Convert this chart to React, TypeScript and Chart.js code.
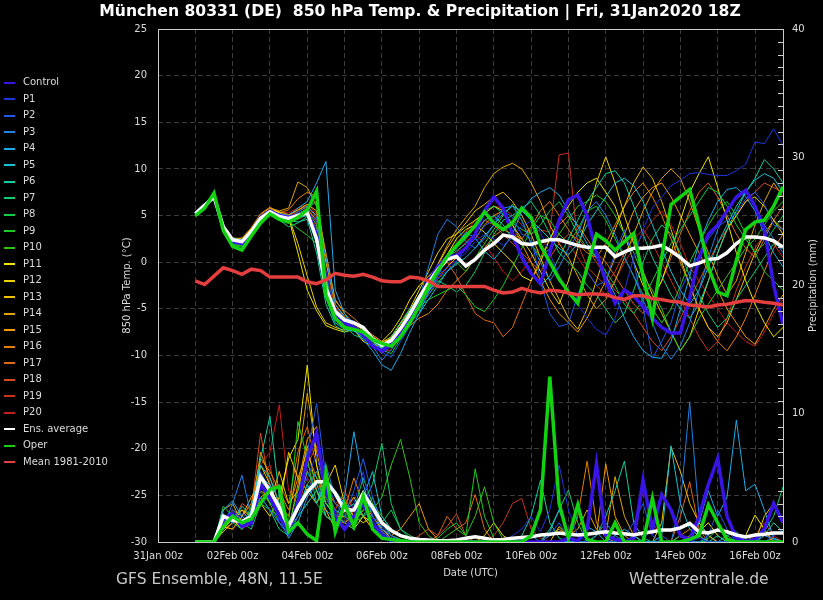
import React, { useEffect, useRef } from 'react';
import { Chart, registerables } from 'chart.js';

Chart.register(...registerables);

// ---------------- DATA ----------------
// forecast valid times, hours after 31Jan2020 00z (6-hourly)
const HOURS = [24, 30, 36, 42, 48, 54, 60, 66, 72, 78, 84, 90, 96, 102, 108, 114,
  120, 126, 132, 138, 144, 150, 156, 162, 168, 174, 180, 186, 192, 198, 204, 210,
  216, 222, 228, 234, 240, 246, 252, 258, 264, 270, 276, 282, 288, 294, 300, 306,
  312, 318, 324, 330, 336, 342, 348, 354, 360, 366, 372, 378, 384, 390, 396, 402];

const X_TICK_LABELS = ['31Jan 00z', '02Feb 00z', '04Feb 00z', '06Feb 00z', '08Feb 00z',
  '10Feb 00z', '12Feb 00z', '14Feb 00z', '16Feb 00z'];

const MEMBER_NAMES = ['Control', 'P1', 'P2', 'P3', 'P4', 'P5', 'P6', 'P7', 'P8', 'P9', 'P10',
  'P11', 'P12', 'P13', 'P14', 'P15', 'P16', 'P17', 'P18', 'P19', 'P20'];

// 850 hPa temperature (°C)
const TEMP_CONTROL = [5.2, 6.0, 7.1, 3.7, 2.2, 2.0, 3.2, 4.8, 5.5, 5.0, 4.8, 5.0, 5.4,
  3.0, -3.0, -5.5, -6.5, -7.0, -7.8, -9.0, -9.5, -8.8, -7.3, -5.8, -3.9, -2.0, -0.5, 0.6,
  0.7, 1.5, 3.0, 5.5, 7.0, 5.8, 3.0, 0.5, -1.2, -2.3, 1.0, 4.5, 6.7, 7.2, 5.0, 1.0,
  -2.0, -4.4, -3.0, -3.6, -4.8, -6.0, -7.0, -7.6, -7.6, -3.8, 0.5, 3.0, 4.0, 5.5, 7.0, 7.7, 6.0, 3.5, -2.5, -6.7];
const TEMP_P1 = [5.3, 6.2, 7.1, 3.9, 2.3, 2.1, 3.2, 4.8, 5.5, 4.8, 4.5, 4.9, 5.2,
  4.5, -1.0, -5.8, -6.5, -6.8, -7.5, -8.6, -9.8, -9.0, -7.6, -6.0, -4.2, -2.8, -1.5, -0.5,
  0.2, 1.0, 2.2, 3.0, 2.5, 1.8, 2.6, 3.9, 4.4, 3.2, 1.0, -1.5, -3.0, -4.5, -6.0, -7.2,
  -7.8, -6.0, -3.0, 0.5, 3.5, 5.8, 7.0, 8.2, 8.8, 9.5, 9.6, 9.4, 9.3, 9.3, 9.8, 10.5, 12.9, 12.7, 14.3, 12.5];
const TEMP_P2 = [5.2, 6.0, 7.0, 3.6, 2.2, 2.3, 3.4, 4.6, 5.3, 5.0, 4.9, 5.2, 5.6,
  3.2, -3.5, -5.0, -6.0, -6.3, -7.0, -8.0, -9.6, -10.2, -8.5, -6.8, -4.9, -3.5, -1.8, -0.9,
  0.0, 1.6, 2.5, 3.9, 4.5, 5.5, 4.8, 3.0, 2.6, -2.0, -5.5, -6.9, -6.6, -3.5, -1.0, -2.5,
  -2.0, 1.0, 3.5, 0.0, -4.8, -10.3, -8.5, -6.5, -3.0, -1.0, 0.8, 2.5, 3.8, 4.5, 5.2, 6.8, 7.5, 6.2, 4.0, 3.5];
const TEMP_P3 = [5.4, 6.3, 7.2, 3.7, 2.4, 2.2, 3.5, 4.9, 5.6, 5.1, 4.6, 5.4, 6.0,
  4.8, 0.5, -4.5, -6.0, -7.2, -7.8, -9.0, -10.5, -9.4, -7.8, -6.2, -4.0, -0.5, 3.0, 4.6,
  3.8, 2.2, 1.5, 2.5, 4.0, 5.8, 6.0, 4.5, 2.0, 0.0, -2.0, -0.5, 1.5, 3.0, 5.5, 6.5,
  5.0, 3.0, 0.5, -1.5, -4.0, -6.5, -9.0, -10.4, -9.0, -6.5, -3.0, 0.5, 3.5, 5.5, 6.8, 7.5, 6.0, 4.0, 2.5, 1.0];
const TEMP_P4 = [5.3, 6.1, 7.0, 3.8, 2.5, 2.4, 3.3, 4.7, 5.4, 5.2, 5.0, 5.8, 6.5,
  8.5, 10.8, -3.0, -5.5, -7.0, -8.3, -9.5, -11.0, -11.6, -9.8, -7.5, -5.5, -3.2, -1.5, 0.5,
  1.8, 3.2, 2.6, 1.2, 0.3, 1.5, 3.0, 5.5, 6.8, 7.5, 8.0, 7.2, 5.5, 3.8, 2.0, 0.5,
  -1.5, -3.5, -6.0, -8.0, -9.5, -10.2, -10.3, -8.5, -5.0, -1.5, 2.0, 4.5, 6.5, 7.8, 8.0, 7.0, 5.5, 3.0, 1.0, -0.5];
const TEMP_P5 = [5.1, 5.9, 6.9, 3.9, 2.6, 2.3, 3.2, 4.6, 5.2, 4.7, 4.4, 4.8, 5.0,
  2.0, -3.8, -6.5, -7.2, -7.4, -8.0, -8.8, -9.5, -8.6, -7.2, -6.5, -5.5, -4.0, -2.5, -1.0,
  -0.2, 0.5, 1.5, 2.8, 4.0, 5.2, 6.0, 5.5, 4.5, 3.5, 2.5, 1.5, 0.8, 2.0, 4.0, 5.5,
  7.0, 8.5, 9.0, 8.2, 6.5, 4.0, 1.5, -1.0, -3.0, -4.5, -3.0, -0.5, 2.0, 4.0, 6.0, 7.5, 8.8, 9.5, 9.0, 7.5];
const TEMP_P6 = [5.2, 6.0, 7.0, 3.5, 2.1, 1.9, 3.0, 4.6, 5.3, 5.0, 4.5, 4.3, 4.6,
  1.0, -4.5, -6.8, -7.5, -7.0, -7.6, -8.5, -9.2, -8.4, -7.0, -5.2, -3.5, -2.0, -0.8, 0.5,
  1.2, 2.0, 3.0, 4.5, 5.0, 4.0, 2.5, 0.8, -1.0, -2.5, -1.5, 0.5, 2.5, 4.5, 6.5, 8.0,
  9.5, 9.8, 8.5, 6.0, 3.0, 0.5, -1.5, -3.5, -5.0, -6.0, -4.5, -2.0, 1.0, 3.5, 5.5, 7.5, 9.0, 11.0, 10.0, 8.5];
const TEMP_P7 = [5.3, 6.2, 7.1, 3.6, 2.3, 2.0, 3.3, 4.8, 5.4, 4.5, 3.8, 4.2, 4.9,
  3.5, -2.0, -5.5, -6.8, -7.8, -8.2, -9.0, -9.4, -8.0, -6.5, -5.0, -4.0, -3.0, -2.0, -2.5,
  -3.2, -2.5, -1.0, 1.0, 3.0, 4.5, 5.0, 5.8, 6.5, 5.0, 3.0, 1.0, 0.0, -1.0, -2.5, -3.5,
  -5.0, -6.5, -5.5, -3.0, 0.0, 2.5, 4.0, 3.0, 1.0, -1.5, -3.5, -5.5, -7.0, -6.0, -4.0, -2.5, -1.0, 0.5, 2.0, 1.5];
const TEMP_P8 = [5.0, 5.8, 6.8, 3.3, 1.8, 1.6, 2.9, 4.4, 5.1, 4.7, 4.6, 5.1, 5.8,
  6.5, -1.5, -5.2, -6.2, -6.6, -7.2, -8.4, -9.4, -9.8, -8.2, -6.0, -4.5, -3.0, -1.2, 0.4,
  1.5, 2.5, 3.8, 5.5, 6.0, 5.2, 4.2, 3.5, 3.0, 4.0, 5.5, 6.5, 5.0, 3.0, 1.5, 0.5,
  -1.0, -2.5, -4.5, -5.5, -4.0, -2.0, 0.0, 2.0, 3.5, 5.0, 6.5, 8.0, 7.5, 6.0, 4.0, 2.5, 1.0, 2.0, 3.5, 5.0];
const TEMP_P9 = [5.2, 6.0, 7.2, 3.7, 2.0, 1.8, 3.1, 4.7, 5.5, 5.0, 4.4, 3.6, 2.9,
  2.0, -2.5, -5.8, -6.6, -6.9, -7.5, -8.3, -9.0, -8.6, -7.4, -6.0, -4.8, -4.0, -3.5, -3.0,
  -2.5, -3.5, -4.8, -5.3, -4.0, -2.5, -0.5, 1.5, 3.5, 5.0, 4.5, 3.0, 2.0, 3.5, 5.5, 6.0,
  4.5, 2.5, 0.5, -1.5, -3.5, -5.0, -6.5, -5.0, -2.5, 0.0, 2.0, 4.0, 5.5, 6.5, 5.0, 3.0, 1.0, -1.0, -2.0, -3.0];
const TEMP_P10 = [5.1, 5.9, 7.0, 3.5, 1.9, 1.7, 3.0, 4.5, 5.2, 4.8, 4.6, 5.0, 5.5,
  4.0, -2.2, -5.5, -6.5, -7.0, -7.6, -8.6, -9.2, -8.8, -7.8, -6.6, -5.0, -3.5, -2.2, -1.0,
  0.0, -1.0, 0.5, 2.0, 3.5, 5.0, 6.2, 4.5, 2.0, 0.5, 1.5, 3.0, 4.5, 6.0, 6.5, 7.2,
  6.5, 5.0, 3.0, 1.0, -1.5, -3.0, -5.0, -7.5, -9.5, -8.0, -6.0, -4.5, -3.0, -1.5, 0.0, 1.5, 2.5, 4.0, 5.5, 6.5];
const TEMP_P11 = [5.3, 6.1, 7.0, 3.9, 2.5, 2.2, 3.4, 4.9, 5.6, 5.3, 4.8, 1.0, -3.0,
  -5.2, -6.8, -7.2, -7.5, -7.2, -8.5, -9.0, -8.5, -7.5, -6.0, -4.0, -2.5, -1.5, -0.5, 0.8,
  2.5, 3.5, 4.0, 3.2, 2.0, 1.0, 0.0, -1.5, -2.0, 0.0, 2.5, 4.5, 6.0, 7.5, 8.5, 9.0,
  7.5, 6.0, 3.0, 0.0, -2.5, -4.0, -2.0, 1.0, 4.5, 7.5, 9.5, 11.3, 8.0, 4.5, 1.0, -2.0, -4.5, -6.5, -8.0, -7.0];
const TEMP_P12 = [5.2, 6.0, 6.9, 3.8, 2.4, 2.1, 3.2, 4.6, 5.3, 5.1, 4.9, 2.0, -1.5,
  -4.8, -6.5, -7.0, -7.3, -7.0, -8.0, -8.8, -9.2, -8.0, -6.5, -5.0, -3.0, -1.0, 1.0, 2.5,
  3.0, 3.8, 4.5, 5.2, 6.0, 5.5, 4.0, 2.5, 1.0, -1.0, -3.0, -4.5, -2.0, 1.5, 5.0, 8.5,
  11.3, 8.5, 5.0, 2.0, -1.0, -3.5, -5.5, -7.5, -9.5, -8.0, -5.0, -2.0, 1.0, 3.5, 5.0, 6.5, 7.0, 6.0, 4.5, 3.0];
const TEMP_P13 = [5.3, 6.2, 7.1, 3.7, 2.3, 2.0, 3.3, 4.9, 5.7, 5.4, 5.1, 5.6, 6.2,
  5.5, 0.0, -4.5, -5.8, -6.8, -7.5, -8.0, -8.6, -8.0, -6.6, -5.2, -3.6, -2.0, -0.3, 1.5,
  3.0, 4.2, 5.5, 6.2, 7.0, 7.5, 6.5, 5.0, 3.0, 0.5, -2.0, -4.0, -6.0, -7.2, -5.0, -2.0,
  1.0, 3.5, 6.0, 8.5, 10.2, 9.0, 6.5, 3.5, 0.5, -2.5, -5.0, -7.0, -8.0, -6.5, -4.0, -1.5, 1.0, 3.0, 4.5, 3.5];
const TEMP_P14 = [5.4, 6.3, 7.3, 4.0, 2.6, 2.5, 3.6, 5.1, 5.8, 5.5, 5.8, 8.6, 8.0,
  6.0, 1.0, -4.0, -5.5, -6.6, -7.3, -8.2, -8.8, -8.2, -7.0, -5.5, -4.0, -2.2, -0.2, 1.8,
  3.5, 4.8, 6.0, 8.0, 9.5, 10.2, 10.6, 10.0, 8.5, 6.5, 4.0, 2.0, 0.5, -1.5, -3.5, -5.0,
  -4.0, -2.0, 0.5, 3.0, 5.5, 7.5, 9.0, 10.0, 9.0, 6.5, 3.5, 1.0, -1.5, -3.5, -2.0, 1.0, 4.0, 6.5, 8.5, 7.0];
const TEMP_P15 = [5.1, 5.9, 6.8, 3.6, 2.2, 2.0, 3.2, 4.7, 5.4, 5.0, 4.8, 5.2, 5.7,
  4.5, -1.8, -5.0, -6.0, -6.5, -7.0, -7.8, -8.5, -8.3, -7.3, -6.0, -4.5, -3.0, -1.5, -0.5,
  0.5, 1.5, 2.5, 4.0, 5.0, 5.5, 4.0, 2.0, 0.0, -2.0, -4.0, -5.5, -6.5, -7.5, -6.0, -4.0,
  -2.0, 0.5, 3.0, 5.5, 7.0, 8.0, 8.5, 7.0, 5.0, 3.0, 1.0, -1.0, -3.0, -5.0, -6.5, -8.0, -8.8, -7.0, -5.0, -3.5];
const TEMP_P16 = [5.2, 6.0, 7.0, 3.9, 2.5, 2.6, 3.7, 5.2, 5.9, 5.3, 5.6, 6.8, 7.5,
  7.0, 0.5, -4.2, -5.2, -6.0, -7.0, -8.0, -8.8, -8.5, -7.6, -6.8, -6.0, -5.5, -4.5, -3.0,
  -2.0, -1.0, 0.5, 1.5, 2.8, 3.5, 3.0, 2.5, 3.8, 5.5, 6.5, 5.0, 3.5, 2.0, 1.0, 0.5,
  2.0, 4.0, 6.0, 7.5, 8.5, 7.0, 5.0, 2.5, 0.0, -2.5, -5.0, -7.0, -8.5, -9.5, -8.0, -6.0, -3.5, -1.0, 1.5, 3.0];
const TEMP_P17 = [5.0, 5.8, 6.9, 3.5, 2.0, 1.8, 3.0, 4.5, 5.2, 4.9, 5.0, 5.6, 6.0,
  5.0, -2.5, -5.8, -6.8, -7.2, -7.8, -8.5, -9.2, -8.6, -7.4, -5.8, -4.2, -2.5, -1.0, 0.0,
  -1.5, -3.5, -5.5, -6.2, -6.5, -8.0, -7.0, -4.5, -2.0, 0.5, 2.5, 4.0, 5.0, 4.0, 2.5, 1.0,
  0.0, -1.5, -3.0, -4.5, -5.5, -4.0, -2.0, 0.5, 3.0, 5.5, 7.5, 8.5, 7.0, 5.0, 3.0, 1.5, 0.5, 2.5, 4.5, 6.0];
const TEMP_P18 = [5.3, 6.1, 7.0, 3.8, 2.3, 2.1, 3.2, 4.8, 5.5, 4.7, 4.3, 4.6, 5.1,
  3.8, -2.0, -5.5, -6.5, -7.0, -7.8, -8.9, -9.8, -9.0, -7.6, -6.0, -4.4, -2.8, -1.5, -0.6,
  0.5, 1.5, 3.0, 4.5, 4.0, 3.0, 2.0, 1.0, 0.0, -1.0, 0.5, 2.0, 3.0, 2.5, 1.5, 0.0,
  -1.5, -3.0, -4.0, -5.5, -7.0, -8.5, -9.5, -8.0, -6.0, -4.0, -2.0, 0.0, 2.0, 3.5, 5.0, 6.5, 7.5, 8.5, 8.0, 7.5];
const TEMP_P19 = [5.2, 6.0, 7.1, 3.7, 2.2, 2.0, 3.1, 4.6, 5.4, 5.2, 5.0, 5.4, 5.9,
  4.2, -1.5, -5.3, -6.3, -6.8, -7.5, -8.6, -9.6, -9.4, -8.0, -6.4, -4.6, -2.8, -0.8, 0.8,
  2.0, 3.2, 4.5, 5.2, 6.0, 5.8, 5.0, 4.0, 3.0, 3.5, 3.2, 11.5, 11.7, 2.0, -0.5, -1.5,
  -2.5, -1.0, 1.0, 2.5, 3.5, 2.0, 0.0, -2.0, -4.0, -6.0, -8.0, -9.5, -8.5, -6.0, -3.0, -0.5, 1.5, 3.0, 2.0, 0.5];
const TEMP_P20 = [5.1, 5.9, 6.9, 3.6, 2.3, 2.1, 3.3, 4.9, 5.6, 5.3, 5.3, 5.8, 6.2,
  5.2, -0.8, -4.8, -6.0, -6.4, -7.0, -8.2, -9.0, -8.8, -7.7, -6.3, -4.8, -3.2, -1.8, -0.5,
  1.0, 2.2, 3.0, 2.0, 0.5, -1.0, -2.0, -1.0, 0.5, 1.5, 2.5, 3.0, 2.0, 0.5, -1.0, -2.5,
  -3.5, -2.0, 0.0, 1.5, 3.0, 4.5, 5.5, 4.0, 2.0, -0.5, -2.0, -3.5, -5.0, -6.5, -7.5, -8.5, -9.0, -7.5, -5.5, -4.0];
const TEMP_ENS_AVG = [5.2, 6.1, 7.0, 3.8, 2.4, 2.2, 3.3, 4.7, 5.4, 4.9, 4.7, 5.0, 5.3,
  2.5, -2.8, -5.3, -6.2, -6.5, -7.0, -8.2, -8.9, -8.4, -7.1, -5.6, -3.8, -2.2, -0.8, 0.3,
  0.6, -0.4, 0.3, 1.3, 2.0, 2.9, 2.7, 2.0, 1.9, 2.2, 2.4, 2.4, 2.1, 1.8, 1.6, 1.6,
  1.6, 0.6, 1.1, 1.5, 1.5, 1.6, 1.8, 1.2, 0.5, -0.4, -0.1, 0.3, 0.4, 1.0, 2.0, 2.7, 2.7, 2.6, 2.3, 1.6];
const TEMP_OPER = [5.0, 5.8, 7.4, 3.4, 1.7, 1.3, 2.8, 4.2, 5.2, 4.6, 4.3, 4.8, 5.6,
  7.6, -3.5, -6.0, -7.0, -7.2, -7.5, -8.3, -8.7, -9.0, -8.0, -6.5, -4.7, -2.6, -0.9, 0.6,
  1.8, 2.8, 3.9, 5.4, 4.2, 3.5, 4.2, 5.8, 4.8, 1.8, 0.0, -1.8, -3.2, -4.4, -0.5, 3.0,
  2.3, 1.3, 2.2, 3.1, -1.5, -6.0, 0.5, 6.2, 7.0, 7.8, 4.0, -0.5, -3.2, -3.6, 0.2, 3.5, 4.3, 4.5, 6.0, 8.1];
const TEMP_MEAN_1981_2010 = [-2.0, -2.4, -1.5, -0.6, -0.9, -1.3, -0.75, -0.9, -1.6, -1.6, -1.6, -1.6, -2.1,
  -2.3, -1.9, -1.2, -1.4, -1.5, -1.3, -1.6, -2.0, -2.1, -2.1, -1.6, -1.7, -2.0, -2.6, -2.6,
  -2.6, -2.6, -2.6, -2.6, -3.0, -3.3, -3.2, -2.8, -3.1, -3.3, -3.0, -3.1, -3.3, -3.5, -3.4, -3.4,
  -3.5, -3.8, -4.0, -3.6, -3.6, -3.9, -4.0, -4.2, -4.3, -4.6, -4.7, -4.8, -4.6, -4.5, -4.3, -4.1, -4.15, -4.3, -4.4, -4.6];

// 6-hourly precipitation (mm)
const PRECIP_CONTROL = [0, 0, 0, 1.8, 2.2, 1.2, 1.5, 4.5, 3.5, 2.0, 0.8, 3.0, 6.5, 8.5, 4.0, 2.0,
  1.0, 2.0, 3.0, 1.5, 0.5, 0.1, 0, 0, 0, 0, 0, 0, 0, 0, 0, 0,
  0, 0, 0, 0, 0, 0, 0, 0, 0.3, 0.1, 1.0, 6.1, 0.5, 0.2, 0, 0.3,
  4.8, 1.0, 3.7, 2.5, 0.5, 0.2, 2.0, 4.5, 6.5, 2.0, 0.3, 0, 0.2, 1.0, 3.0, 1.5];
const PRECIP_P1 = [0, 0, 0, 1.5, 2.5, 1.8, 1.2, 4.5, 3.2, 2.0, 0.5, 3.5, 5.0, 6.8, 3.5, 2.5,
  1.5, 3.0, 5.5, 2.0, 0.8, 0.3, 0, 0, 0, 0, 0.2, 0, 0, 0, 0, 0,
  0, 0, 0.5, 1.0, 2.0, 0.8, 2.5, 6.0, 2.5, 0.5, 0, 0, 0, 0.3, 0, 0,
  0.2, 1.0, 0.5, 0, 0, 0, 0.3, 0, 0, 0, 0.5, 0.2, 0, 0, 0, 0];
const PRECIP_P2 = [0, 0, 0, 2.0, 1.5, 2.2, 1.8, 5.5, 4.0, 1.5, 0.8, 2.5, 7.0, 10.8, 5.0, 3.0,
  2.0, 4.0, 6.5, 3.5, 1.2, 0.5, 0.1, 0, 0, 0, 0, 0, 0, 0, 0, 0,
  0, 0, 0, 0, 0, 0, 0.5, 1.5, 0.3, 0, 0, 0, 0, 0, 0.5, 1.5,
  3.0, 0.5, 0, 0, 0, 0, 0, 0.5, 2.5, 1.0, 0, 0, 0.3, 0, 0.5, 1.0];
const PRECIP_P3 = [0, 0, 0, 1.2, 3.0, 5.2, 2.0, 3.5, 2.5, 1.5, 0.5, 2.0, 4.0, 5.5, 6.0, 3.5,
  2.5, 2.0, 4.0, 2.5, 1.0, 0.5, 0, 0, 0, 0, 0, 0, 0, 0, 0, 0,
  0, 0, 0, 0.2, 0.5, 0, 0, 0, 0, 0, 0, 0.5, 1.5, 0.5, 0, 0,
  0, 0, 0, 0, 3.0, 10.9, 2.0, 0, 0, 0, 0, 0, 0, 0.5, 0.2, 0];
const PRECIP_P4 = [0, 0, 0, 2.5, 3.2, 2.0, 1.5, 5.0, 4.5, 2.0, 0.3, 1.5, 3.5, 4.5, 2.5, 1.8,
  3.5, 8.6, 4.5, 2.0, 0.8, 0.2, 0, 0, 0, 0, 0, 0, 0, 0, 0, 0,
  0, 0, 0, 0, 0, 0, 0.8, 2.5, 0.5, 0, 1.2, 0.8, 0, 0, 0, 0,
  0, 0, 0, 0, 0, 0, 1.5, 4.0, 2.0, 3.5, 9.5, 4.0, 4.5, 2.5, 0.3, 0];
const PRECIP_P5 = [0, 0, 0, 1.0, 2.0, 1.0, 2.5, 6.0, 5.0, 3.0, 1.5, 2.5, 4.5, 3.0, 5.0, 4.0,
  3.0, 1.5, 3.5, 5.5, 2.0, 1.0, 0.5, 0.2, 0, 0, 0, 0, 0, 0, 0, 0,
  0, 0, 0, 0, 0, 0, 0, 0, 0, 0, 0, 0, 0, 0.5, 1.0, 0.5,
  0, 0, 0.5, 7.5, 3.0, 1.0, 0.5, 0, 0, 0.5, 0.8, 0, 0, 0, 0, 0];
const PRECIP_P6 = [0, 0, 0, 2.2, 1.5, 2.8, 2.0, 6.5, 9.8, 3.5, 1.0, 2.0, 3.0, 4.0, 2.0, 1.5,
  2.5, 3.0, 2.0, 3.5, 1.5, 0.5, 0.2, 0, 0, 0, 0, 0, 0, 0, 0, 0,
  0, 0, 0, 0.5, 2.0, 4.8, 1.5, 0.3, 0, 0, 0, 0.5, 2.0, 4.0, 6.3, 1.5,
  0.3, 0, 0, 0, 0, 0, 0, 0, 0.5, 0, 0, 0, 0, 0.5, 1.5, 0.8];
const PRECIP_P7 = [0, 0, 0, 1.5, 2.2, 1.5, 1.0, 3.0, 2.5, 1.0, 0.5, 3.0, 5.5, 4.0, 3.0, 2.0,
  1.5, 1.0, 3.0, 4.5, 7.7, 3.0, 1.0, 0.5, 0.2, 0, 0, 0, 0, 0, 0, 0,
  0, 0, 0, 0, 0, 0, 1.0, 2.5, 4.05, 1.5, 0, 0, 0, 0, 0, 0.5,
  0, 0, 0, 0, 0.5, 0, 0, 0, 0, 0, 0, 0.5, 0, 0.8, 2.0, 4.3];
const PRECIP_P8 = [0, 0, 0, 2.8, 2.0, 1.2, 2.8, 5.0, 3.0, 2.5, 1.2, 4.0, 6.0, 5.0, 3.0, 2.5,
  2.0, 2.5, 5.0, 3.0, 1.5, 2.5, 1.0, 0.3, 0, 0, 0, 0, 0, 0, 0, 0,
  0, 0, 0, 0, 0, 0, 0, 0, 0, 0, 0, 0, 0, 0, 0, 0,
  0, 0, 0, 0, 0, 0, 0, 0.3, 1.0, 0.5, 0, 0, 0, 0, 0, 0];
const PRECIP_P9 = [0, 0, 0, 2.0, 1.5, 1.0, 2.0, 3.5, 2.5, 2.0, 1.5, 9.4, 6.5, 3.0, 2.0, 1.5,
  2.0, 1.5, 2.5, 3.0, 2.0, 1.0, 0.5, 0, 0, 0, 0.3, 1.0, 1.5, 0.5, 5.7, 2.0,
  0.3, 0, 0, 0, 0, 0, 0, 0, 0, 0, 0, 0, 0, 0, 0, 0,
  0, 0, 0, 0, 0, 0, 0, 0, 0, 0, 0, 0, 0, 0, 0, 0];
const PRECIP_P10 = [0, 0, 0, 1.5, 2.5, 1.8, 1.5, 4.0, 3.0, 1.5, 0.8, 2.5, 4.5, 5.5, 3.5, 2.0,
  1.0, 1.5, 2.0, 2.5, 3.5, 6.0, 8.0, 5.0, 1.5, 0.5, 0, 0.5, 1.0, 0.5, 2.0, 4.3,
  1.5, 0.2, 0, 0, 0, 0, 0, 0, 0, 0, 0, 0, 0, 0, 0, 0,
  0, 0, 0, 0, 0, 0, 0, 0, 0, 0, 0, 0, 0, 0, 0, 0];
const PRECIP_P11 = [0, 0, 0, 1.0, 1.8, 1.0, 2.5, 3.0, 2.0, 3.5, 6.5, 8.0, 13.8, 6.0, 3.0, 2.0,
  1.5, 1.0, 2.0, 1.5, 0.5, 0, 0, 0, 0, 0, 0, 0, 0, 0, 0, 0,
  0, 0, 0, 0, 0, 0, 0, 0, 0, 0, 0, 0, 0, 0, 0, 0,
  0, 0, 0, 0, 0, 0, 0.8, 1.5, 0.5, 0, 0, 0.5, 2.1, 1.0, 0, 0];
const PRECIP_P12 = [0, 0, 0, 0.8, 1.5, 2.5, 2.0, 6.0, 4.5, 2.5, 7.0, 5.0, 4.0, 3.0, 4.5, 6.0,
  3.0, 2.0, 1.5, 2.0, 1.0, 0.3, 0, 0, 0, 0, 0, 0, 0, 0, 0, 0.5,
  1.5, 0.5, 0, 0, 0, 0, 0, 1.2, 0.5, 0, 0, 0, 0, 0, 0, 0,
  0, 0, 0, 0, 0, 0, 0, 0, 0, 0, 0, 0, 0, 2.0, 3.0, 1.5];
const PRECIP_P13 = [0, 0, 0, 1.2, 1.0, 2.0, 3.5, 4.5, 3.0, 5.5, 3.0, 4.0, 7.5, 4.0, 2.5, 1.0,
  2.5, 3.5, 2.0, 1.0, 0.5, 0.2, 0, 0, 0, 0, 0, 0, 0, 0, 0, 0,
  0, 0, 0, 0, 0, 0, 0, 0, 0, 0, 0, 0, 0, 0, 0, 0,
  0, 0, 1.5, 7.4, 5.5, 3.0, 1.5, 0.5, 0, 0, 0, 0, 0, 0, 0, 0];
const PRECIP_P14 = [0, 0, 0, 2.5, 3.0, 1.5, 2.2, 7.0, 5.0, 3.0, 2.0, 6.0, 11.6, 7.0, 4.0, 2.5,
  1.5, 2.0, 3.5, 2.5, 1.0, 0.5, 0, 0, 0, 0, 0, 0, 0, 0, 0, 0,
  0, 0, 0, 0, 0, 0, 0.5, 1.0, 0.5, 1.0, 2.5, 1.0, 0.5, 5.1, 2.0, 0.5,
  0, 0, 0, 0, 0, 0.5, 1.5, 0.5, 0, 0, 0, 0, 0, 0, 0, 0];
const PRECIP_P15 = [0, 0, 0, 1.0, 2.0, 2.5, 1.5, 3.5, 4.0, 2.0, 1.0, 4.5, 8.0, 9.0, 3.5, 2.0,
  2.0, 1.5, 2.5, 3.0, 1.5, 0.5, 1.0, 2.0, 3.0, 1.0, 0.2, 0, 0, 0, 0, 0,
  0, 0, 0, 0, 0, 0, 0, 0, 0, 0, 0, 0.5, 6.1, 2.0, 0.5, 0,
  0, 0, 0, 0, 0, 0, 0, 0, 0, 0, 0, 0, 0, 0, 0.3, 0];
const PRECIP_P16 = [0, 0, 0, 1.5, 2.5, 2.0, 3.0, 6.5, 5.5, 4.0, 2.5, 5.0, 7.0, 5.0, 4.0, 3.0,
  2.5, 5.0, 3.0, 2.0, 1.0, 0.5, 0.2, 0, 0, 0, 0, 0, 0, 0, 0, 0,
  0, 0, 0, 0, 0, 0, 0, 0, 0, 2.0, 6.3, 1.5, 0.3, 0, 0, 0,
  0, 0, 0, 0, 0.5, 1.0, 0.5, 0, 0, 0, 0, 0, 0, 0, 0, 0];
const PRECIP_P17 = [0, 0, 0, 1.0, 1.5, 1.5, 2.0, 4.0, 3.5, 4.5, 3.0, 7.0, 9.0, 6.0, 2.0, 1.5,
  1.5, 2.5, 3.0, 1.5, 0.5, 0.2, 0, 0, 0, 0, 0.5, 2.0, 1.0, 1.5, 3.7, 1.0,
  0, 0, 0, 0, 0, 0, 0, 0, 0, 0, 0, 0, 0, 0, 0, 0,
  0, 0, 0, 0, 2.0, 4.7, 1.0, 0, 0, 0, 0, 0, 0, 0, 0, 0];
const PRECIP_P18 = [0, 0, 0, 2.0, 1.5, 3.0, 2.5, 8.5, 4.0, 3.0, 1.5, 3.0, 6.0, 7.5, 4.5, 3.0,
  3.5, 2.0, 4.0, 2.0, 0.8, 0.3, 0, 0, 0.5, 1.0, 0.5, 1.2, 2.2, 0.5, 0, 0,
  0, 0, 0, 0, 0, 0, 0, 0, 0, 0, 0, 0, 0, 0, 0, 0,
  0, 0, 0, 0, 0, 0, 0, 0, 0, 0, 0, 0, 0, 0.5, 0.3, 0];
const PRECIP_P19 = [0, 0, 0, 1.5, 2.0, 1.0, 1.5, 5.0, 6.0, 2.5, 1.0, 2.5, 5.5, 4.5, 3.5, 2.5,
  4.0, 2.5, 2.0, 1.5, 0.5, 0.3, 0, 0, 0, 0, 0, 0, 0, 0, 0, 0,
  0.5, 1.5, 3.0, 3.4, 1.0, 0.3, 0, 0, 0, 0, 0, 0, 0, 0, 0, 0,
  4.2, 1.5, 0.5, 0, 0, 0, 0, 0, 0, 0, 0, 0, 0, 0, 0, 0];
const PRECIP_P20 = [0, 0, 0, 1.2, 1.0, 2.0, 3.0, 6.0, 7.0, 10.7, 4.0, 3.0, 5.0, 4.0, 3.0, 2.0,
  2.0, 3.5, 2.0, 1.0, 0.5, 0, 0, 0, 0, 0, 0, 0, 0, 0, 0, 0,
  0, 0, 0, 0, 0, 0, 0, 0, 0, 0, 0, 0, 0, 0, 0, 0,
  0, 0, 0, 0, 0, 0, 0, 0, 0, 0, 0, 0, 0.5, 1.5, 0.5, 0];
const PRECIP_ENS_AVG = [0, 0, 0, 2.0, 1.7, 1.6, 2.0, 5.1, 4.0, 2.7, 1.2, 2.7, 3.9, 4.7, 4.7, 3.8,
  2.5, 2.5, 3.8, 2.7, 1.5, 0.9, 0.5, 0.3, 0.2, 0.15, 0.1, 0.1, 0.15, 0.3, 0.4, 0.3,
  0.15, 0.2, 0.3, 0.35, 0.4, 0.55, 0.6, 0.7, 0.6, 0.55, 0.6, 0.7, 0.8, 0.7, 0.65, 0.55,
  0.7, 0.8, 0.94, 0.94, 1.1, 1.45, 0.8, 0.7, 0.94, 0.8, 0.55, 0.4, 0.55, 0.6, 0.7, 0.7];
const PRECIP_OPER = [0, 0, 0, 1.2, 2.0, 1.5, 1.8, 3.0, 4.1, 4.3, 0.8, 1.5, 0.6, 0.1, 5.4, 0.8,
  3.0, 1.2, 3.6, 1.0, 0.3, 0.2, 0.1, 0, 0, 0, 0, 0, 0, 0, 0, 0,
  0, 0, 0, 0, 0.5, 2.5, 12.9, 3.0, 0.3, 2.9, 0.2, 0, 0, 1.5, 0, 0,
  0, 3.4, 0, 0, 0, 0.2, 0.5, 2.9, 1.5, 0.2, 0, 0, 0, 0, 0, 0];

const MEMBER_TEMPS = [TEMP_CONTROL, TEMP_P1, TEMP_P2, TEMP_P3, TEMP_P4, TEMP_P5, TEMP_P6, TEMP_P7,
  TEMP_P8, TEMP_P9, TEMP_P10, TEMP_P11, TEMP_P12, TEMP_P13, TEMP_P14, TEMP_P15, TEMP_P16,
  TEMP_P17, TEMP_P18, TEMP_P19, TEMP_P20];
const MEMBER_PRECIPS = [PRECIP_CONTROL, PRECIP_P1, PRECIP_P2, PRECIP_P3, PRECIP_P4, PRECIP_P5,
  PRECIP_P6, PRECIP_P7, PRECIP_P8, PRECIP_P9, PRECIP_P10, PRECIP_P11, PRECIP_P12, PRECIP_P13,
  PRECIP_P14, PRECIP_P15, PRECIP_P16, PRECIP_P17, PRECIP_P18, PRECIP_P19, PRECIP_P20];

// ---------------- STYLE ----------------
const MEMBER_COLORS = ['#3a14e6', '#1e34dc', '#1e5ae6', '#1e82e6', '#1cacec', '#14c4d4',
  '#12cea4', '#12cc74', '#12cc48', '#18cc22', '#30c412', '#f0e600', '#ecd000', '#f0bf00',
  '#e0a400', '#f09a00', '#e68000', '#e06812', '#d44c1e', '#c8321e', '#c41c1c'];
const ENS_COLOR = '#ffffff';
const OPER_COLOR = '#12d212';
const MEAN_COLOR = '#e43e3e';
const AXIS_COLOR = '#cdcdcd';
const TEXT_COLOR = '#dcdcdc';
const GRID_COLOR = '#3c3c3c';
const FONT = '"DejaVu Sans", sans-serif';

const TITLE = 'München 80331 (DE)  850 hPa Temp. & Precipitation | Fri, 31Jan2020 18Z';

const toPoints = (arr: number[]) => HOURS.map((h, i) => ({ x: h, y: arr[i] }));

const decorPlugin = {
  id: 'decor',
  afterDraw(chart: any) {
    const { ctx, chartArea: a } = chart;
    const y2 = chart.scales.y2;
    const L = Math.round(a.left), R = Math.round(a.right), T = Math.round(a.top), B = Math.round(a.bottom);
    ctx.save();
    // plot frame
    ctx.strokeStyle = AXIS_COLOR;
    ctx.lineWidth = 1;
    ctx.setLineDash([]);
    ctx.strokeRect(L + 0.5, T + 0.5, R - L, B - T);
    // inward minor ticks on precipitation axis
    for (let v = 1; v < 40; v++) {
      const py = Math.round(y2.getPixelForValue(v)) + 0.5;
      ctx.beginPath();
      ctx.moveTo(R - 5, py);
      ctx.lineTo(R + 1, py);
      ctx.stroke();
    }
    // title
    ctx.fillStyle = '#ffffff';
    ctx.textAlign = 'center';
    ctx.textBaseline = 'middle';
    ctx.font = 'bold 15.6px "DejaVu Sans", sans-serif';
    ctx.fillText(TITLE, 420, 12);
    // axis titles
    ctx.fillStyle = TEXT_COLOR;
    ctx.font = '10px ' + FONT;
    ctx.fillText('Date (UTC)', (L + R) / 2, 573);
    ctx.save();
    ctx.translate(127, (T + B) / 2);
    ctx.rotate(-Math.PI / 2);
    ctx.fillText('850 hPa Temp. (°C)', 0, 0);
    ctx.restore();
    ctx.save();
    ctx.translate(813, (T + B) / 2);
    ctx.rotate(-Math.PI / 2);
    ctx.fillText('Precipitation (mm)', 0, 0);
    ctx.restore();
    // footer
    ctx.fillStyle = '#c8c8c8';
    ctx.textAlign = 'left';
    ctx.font = '15.5px ' + FONT;
    ctx.fillText('GFS Ensemble, 48N, 11.5E', 116, 580);
    ctx.fillText('Wetterzentrale.de', 629, 580);
    // legend
    const items = MEMBER_NAMES.map((n, i) => ({ label: n, color: MEMBER_COLORS[i] }))
      .concat([
        { label: 'Ens. average', color: ENS_COLOR },
        { label: 'Oper', color: OPER_COLOR },
        { label: 'Mean 1981-2010', color: MEAN_COLOR },
      ]);
    ctx.font = '10px ' + FONT;
    ctx.textBaseline = 'middle';
    items.forEach((it, k) => {
      const y = 82.5 + k * 16.5;
      ctx.strokeStyle = it.color;
      ctx.lineWidth = 2;
      ctx.beginPath();
      ctx.moveTo(4, Math.round(y));
      ctx.lineTo(15, Math.round(y));
      ctx.stroke();
      ctx.fillStyle = TEXT_COLOR;
      ctx.fillText(it.label, 23, y);
    });
    ctx.restore();
  },
};

export default function App() {
  const ref = useRef<HTMLCanvasElement>(null);

  useEffect(() => {
    if (!ref.current) return;
    Chart.defaults.font.family = FONT;
    const datasets: any[] = [];
    MEMBER_NAMES.forEach((name, i) => {
      const isControl = i === 0;
      const common = {
        borderColor: MEMBER_COLORS[i],
        backgroundColor: MEMBER_COLORS[i],
        borderWidth: isControl ? 3.5 : 1,
        pointRadius: 0,
        fill: false,
        tension: 0,
        order: isControl ? 3 : 4,
      };
      datasets.push({ ...common, label: name, data: toPoints(MEMBER_TEMPS[i]), yAxisID: 'y' });
      datasets.push({ ...common, label: name + ' precip', data: toPoints(MEMBER_PRECIPS[i]), yAxisID: 'y2' });
    });
    const thick = { pointRadius: 0, fill: false, tension: 0 };
    datasets.push({ ...thick, label: 'Ens. average', data: toPoints(TEMP_ENS_AVG), yAxisID: 'y', borderColor: ENS_COLOR, borderWidth: 3.5, order: 2 });
    datasets.push({ ...thick, label: 'Ens. average precip', data: toPoints(PRECIP_ENS_AVG), yAxisID: 'y2', borderColor: ENS_COLOR, borderWidth: 3.5, order: 2 });
    datasets.push({ ...thick, label: 'Oper', data: toPoints(TEMP_OPER), yAxisID: 'y', borderColor: OPER_COLOR, borderWidth: 3.5, order: 1 });
    datasets.push({ ...thick, label: 'Oper precip', data: toPoints(PRECIP_OPER), yAxisID: 'y2', borderColor: OPER_COLOR, borderWidth: 3.5, order: 1 });
    datasets.push({ ...thick, label: 'Mean 1981-2010', data: toPoints(TEMP_MEAN_1981_2010), yAxisID: 'y', borderColor: MEAN_COLOR, borderWidth: 3.5, order: 0 });

    const chart = new Chart(ref.current, {
      type: 'line',
      data: { datasets },
      plugins: [decorPlugin],
      options: {
        responsive: false,
        animation: false,
        events: [],
        layout: { padding: { top: 29, left: 0, right: 0, bottom: 0 } },
        plugins: {
          legend: { display: false },
          title: { display: false },
          tooltip: { enabled: false },
        },
        scales: {
          x: {
            type: 'linear',
            min: 0,
            max: 402,
            afterFit: (s: any) => { s.height = 58; },
            ticks: {
              stepSize: 24,
              autoSkip: false,
              maxRotation: 0,
              includeBounds: false,
              color: TEXT_COLOR,
              font: { size: 10, family: FONT },
              padding: 8,
              callback: (v: any) => (v % 48 === 0 ? X_TICK_LABELS[v / 48] : ''),
            },
            grid: { color: GRID_COLOR, drawTicks: false, lineWidth: 1 },
            border: { display: false, dash: [5, 3] },
          },
          y: {
            type: 'linear',
            position: 'left',
            min: -30,
            max: 25,
            afterFit: (s: any) => { s.width = 158; },
            ticks: { stepSize: 5, color: TEXT_COLOR, font: { size: 10, family: FONT }, padding: 11 },
            grid: { color: GRID_COLOR, drawTicks: false, lineWidth: 1 },
            border: { display: false, dash: [5, 3] },
          },
          y2: {
            type: 'linear',
            position: 'right',
            min: 0,
            max: 40,
            afterFit: (s: any) => { s.width = 40; },
            ticks: { stepSize: 10, color: TEXT_COLOR, font: { size: 10, family: FONT }, padding: 9 },
            grid: { drawOnChartArea: false, drawTicks: false },
            border: { display: false },
          },
        },
      },
    });
    return () => chart.destroy();
  }, []);

  return (
    <div style={{ position: 'absolute', left: 0, top: 0, width: 823, height: 600, background: '#000' }}>
      <canvas ref={ref} width={823} height={600} />
    </div>
  );
}
